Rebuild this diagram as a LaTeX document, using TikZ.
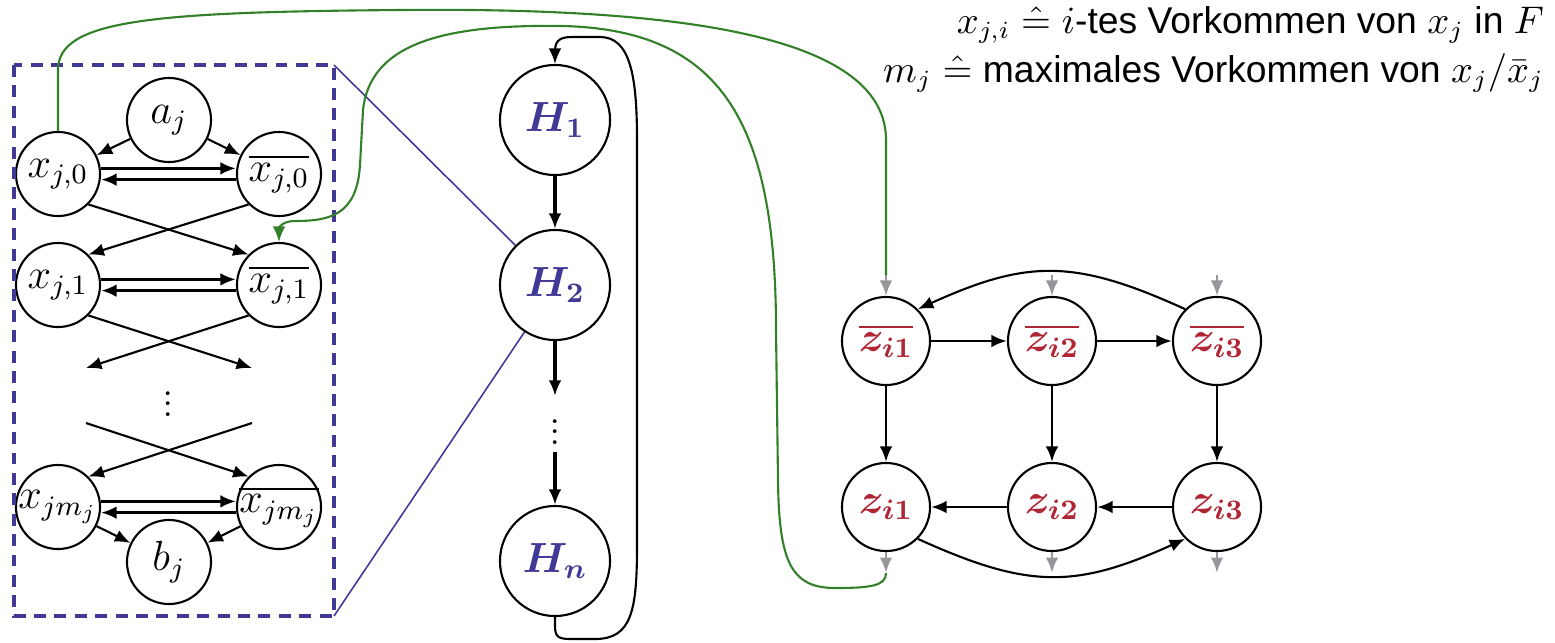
\documentclass[tikz,border=0pt]{standalone}
\usepackage{amsmath}
\usepackage{graphicx}
\usepackage{fontspec}
\setsansfont{Liberation Sans}
\usepackage{tikz}
\usetikzlibrary{arrows.meta}
\definecolor{hblue}{RGB}{66,56,150}
\definecolor{zred}{RGB}{176,38,52}
\definecolor{lgreen}{RGB}{50,128,40}
\definecolor{stubgray}{RGB}{150,150,155}
\tikzset{x=0.01cm, y=-0.01cm, >={Latex[length=4.4pt,width=3.6pt]},
  vnode/.style={circle, draw, minimum size=0.84cm, inner sep=0pt, font=\large},
  hnode/.style={circle, draw, minimum size=1.1cm, inner sep=0pt, text=hblue, font=\large},
  znode/.style={circle, draw, minimum size=0.88cm, inner sep=0pt, text=zred, font=\large},
  stub/.style={->, thick, stubgray},
  wire/.style={lgreen, semithick},
  zoomline/.style={hblue, line width=0.45pt},
  legend/.style={anchor=base east, inner sep=0pt, font=\sffamily\fontsize{10.6}{13}\selectfont}}

\begin{document}
\begin{tikzpicture}[semithick]
                \useasboundingbox (0,0) rectangle (1555,642);
                % variable gadget
                \node[vnode] (a)   at (169,120) {$a_j$};
                \node[vnode] (x0)  at (58,174)  {$x_{j,0}$};
                \node[vnode] (xb0) at (279,174) {$\overline{x_{j,0}}$};
                \node[vnode] (x1)  at (58,285)  {$x_{j,1}$};
                \node[vnode] (xb1) at (279,285) {$\overline{x_{j,1}}$};
                \node[vnode] (xm)  at (58,507)  {\makebox[0pt]{$x_{jm_j}$}};
                \node[vnode] (xbm) at (279,507) {\makebox[0pt]{$\overline{x_{jm_j}}$}};
                \node[vnode] (b)   at (169,562) {$b_j$};
                \node (xdots) at (168,396) {\scalebox{0.75}{\LARGE$\vdots$}};
                \coordinate (s1) at (252,368);
                \coordinate (s2) at (86,368);
                \coordinate (t1) at (86,423);
                \coordinate (t2) at (252,423);
                \draw[->] (a) to (x0);
                \draw[->] (a) to (xb0);
                \draw[->, thick] ([yshift=1.6pt]x0.east) to ([yshift=1.6pt]xb0.west);
                \draw[<-, thick] ([yshift=-1.6pt]x0.east) to ([yshift=-1.6pt]xb0.west);
                \draw[->, thick] ([yshift=1.6pt]x1.east) to ([yshift=1.6pt]xb1.west);
                \draw[<-, thick] ([yshift=-1.6pt]x1.east) to ([yshift=-1.6pt]xb1.west);
                \draw[->, thick] ([yshift=1.6pt]xm.east) to ([yshift=1.6pt]xbm.west);
                \draw[<-, thick] ([yshift=-1.6pt]xm.east) to ([yshift=-1.6pt]xbm.west);
                \draw[->] (x0.south east) to (xb1.north west);
                \draw[->] (xb0.south west) to (x1.north east);
                \draw[->] (x1.south east) to (s1);
                \draw[->] (xb1.south west) to (s2);
                \draw[->] (t1) to (xbm.north west);
                \draw[->] (t2) to (xm.north east);
                \draw[->] (xm) to (b);
                \draw[->] (xbm) to (b);
                \coordinate (bxtl) at (14,65);
                \coordinate (bxtr) at (334,65);
                \coordinate (bxbr) at (334,616);
                \draw[hblue, line width=0.9pt, dash pattern=on 3.4pt off 2.4pt] (bxtl) rectangle (bxbr);

                % chain of gadgets
                \node[hnode] (H1) at (555,120) {$\boldsymbol{H_1}$};
                \node[hnode] (H2) at (555,285) {$\boldsymbol{H_2}$};
                \node (Hd) at (555,424) [minimum height=0.54cm, inner sep=0pt] {\scalebox{0.75}{\LARGE$\vdots$}};
                \node[hnode] (Hn) at (555,561) {$\boldsymbol{H_n}$};
                \draw[->, very thick] (H1) to (H2);
                \draw[->, very thick] (H2) to (Hd);
                \draw[->, very thick] (Hd) to (Hn);
                \draw[->] (Hn.south) -- (555,626) .. controls (555,639) and (560,639) .. (575,639)
                  -- (595,639) .. controls (632,639) and (637,610) .. (637,545)
                  -- (637,140) .. controls (637,75) and (630,37) .. (600,37)
                  -- (572,37) .. controls (558,37) and (555,42) .. (555,52) -- (H1.north);
                \draw[zoomline] (bxtr) to (H2.north west);
                \draw[zoomline] (bxbr) to (H2.237);

                % clause gadget
                \node[znode] (zb1) at (886,341)  {$\overline{\boldsymbol{z_{i1}}}$};
                \node[znode] (zb2) at (1052,341) {$\overline{\boldsymbol{z_{i2}}}$};
                \node[znode] (zb3) at (1217,341) {$\overline{\boldsymbol{z_{i3}}}$};
                \node[znode] (z1)  at (886,507)  {$\boldsymbol{z_{i1}}$};
                \node[znode] (z2)  at (1052,507) {$\boldsymbol{z_{i2}}$};
                \node[znode] (z3)  at (1217,507) {$\boldsymbol{z_{i3}}$};
                \coordinate (zin1) at (886,275);
                \coordinate (zin2) at (1052,275);
                \coordinate (zin3) at (1217,275);
                \coordinate (zout1) at (886,573);
                \coordinate (zout2) at (1052,573);
                \coordinate (zout3) at (1217,573);
                \draw[stub] (zin1) to (zb1);
                \draw[stub] (zin2) to (zb2);
                \draw[stub] (zin3) to (zb3);
                \draw[stub] (z1) to (zout1);
                \draw[stub] (z2) to (zout2);
                \draw[stub] (z3) to (zout3);
                \draw[->, thick] (zb1) to (zb2);
                \draw[->, thick] (zb2) to (zb3);
                \draw[->, thick] (z3) to (z2);
                \draw[->, thick] (z2) to (z1);
                \draw[->, thick] (zb1) to (z1);
                \draw[->, thick] (zb2) to (z2);
                \draw[->, thick] (zb3) to (z3);
                \draw[->] (zb3.north west) .. controls +(-110,-50) and +(110,-50) .. (zb1.north east);
                \draw[->] (z1.south east) .. controls +(110,50) and +(-110,50) .. (z3.south west);

                % literal edges
                \draw[wire] (x0.north) -- (58,70) .. controls (58,20) and (150,12) .. (400,10)
                  .. controls (700,7) and (886,40) .. (886,140) -- (zin1);
                \draw[wire, ->] (zout1) .. controls (886,586) and (870,588) .. (835,588)
                  .. controls (790,588) and (779,560) .. (778,480) -- (776,330)
                  .. controls (776,120) and (720,30) .. (563,26)
                  .. controls (440,24) and (370,45) .. (363,110) -- (360,165)
                  .. controls (357,215) and (330,221) .. (295,221)
                  .. controls (282,221) and (279,228) .. (xb1.north);

                % legend
                \node[legend] (leg1) at (1545,33) {$x_{j,i} \mathrel{\hat{=}} i$-tes Vorkommen von $x_j$ in $F$};
                \node[legend] (leg2) at (1545,82) {$m_j \mathrel{\hat{=}}$ maximales Vorkommen von $x_j/\bar{x}_j$};
              \end{tikzpicture}
\end{document}
